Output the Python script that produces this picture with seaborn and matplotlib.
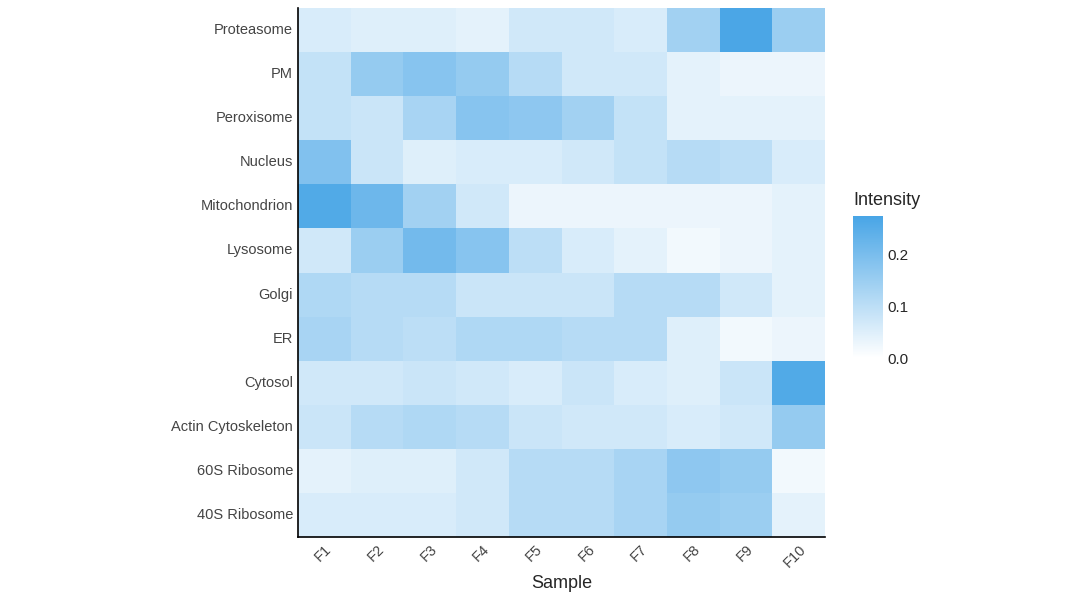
import numpy as np
import pandas as pd
import matplotlib
matplotlib.use("Agg")
import matplotlib.pyplot as plt
from matplotlib.colors import LinearSegmentedColormap
import seaborn as sns

samples = ["F1", "F2", "F3", "F4", "F5", "F6", "F7", "F8", "F9", "F10"]
compartments = ["Proteasome", "PM", "Peroxisome", "Nucleus", "Mitochondrion", "Lysosome",
                "Golgi", "ER", "Cytosol", "Actin Cytoskeleton", "60S Ribosome", "40S Ribosome"]

proteasome = [.06, .05, .05, .04, .07, .07, .06, .14, .27, .15]
pm = [.09, .16, .18, .16, .11, .07, .07, .04, .03, .03]
peroxisome = [.09, .08, .13, .18, .17, .14, .09, .04, .04, .04]
nucleus = [.19, .08, .05, .06, .06, .07, .09, .11, .10, .06]
mitochondrion = [.26, .22, .14, .07, .03, .03, .03, .03, .03, .04]
lysosome = [.07, .15, .21, .18, .10, .06, .04, .02, .03, .04]
golgi = [.12, .11, .11, .08, .08, .08, .11, .11, .07, .04]
er = [.13, .11, .10, .12, .12, .11, .11, .05, .02, .03]
cytosol = [.07, .07, .08, .07, .06, .08, .06, .05, .08, .26]
actin = [.08, .11, .12, .11, .08, .07, .07, .06, .07, .16]
ribo60 = [.04, .05, .05, .07, .11, .11, .13, .17, .16, .02]
ribo40 = [.06, .06, .06, .07, .11, .11, .13, .16, .15, .04]

df = pd.DataFrame([proteasome, pm, peroxisome, nucleus, mitochondrion, lysosome,
                   golgi, er, cytosol, actin, ribo60, ribo40],
                  index=compartments, columns=samples)

sns.set_style("white")
plt.rcParams['font.family'] = ['Liberation Sans', 'DejaVu Sans']
cmap = LinearSegmentedColormap.from_list("blu", ["#ffffff", "#48a5e6"])

fig = plt.figure(figsize=(10.8, 6), dpi=100)
ax = fig.add_axes([298/1080, 63/600, 527/1080, 529/600])
cax = fig.add_axes([853/1080, 242/600, 30/1080, 142/600])
sns.heatmap(df, ax=ax, cbar_ax=cax, cmap=cmap, vmin=0, vmax=0.275,
            cbar_kws={"ticks": [0, 0.1, 0.2]})
cax.set_yticklabels(["0.0", "0.1", "0.2"])
cax.tick_params(length=0, labelsize=11)
cax.set_title("Intensity", loc="left", fontsize=13, pad=8)
for s in cax.spines.values():
    s.set_visible(False)

ax.set_xlabel("Sample", fontsize=13)
ax.set_ylabel("")
ax.tick_params(length=0, labelsize=10.5, colors="#444444")
plt.setp(ax.get_xticklabels(), rotation=45, ha="right", rotation_mode="anchor")
plt.setp(ax.get_yticklabels(), rotation=0)
for side in ["left", "bottom"]:
    ax.spines[side].set_visible(True)
    ax.spines[side].set_color("black")
    ax.spines[side].set_linewidth(1.2)

fig.savefig("out.png", dpi=100)
